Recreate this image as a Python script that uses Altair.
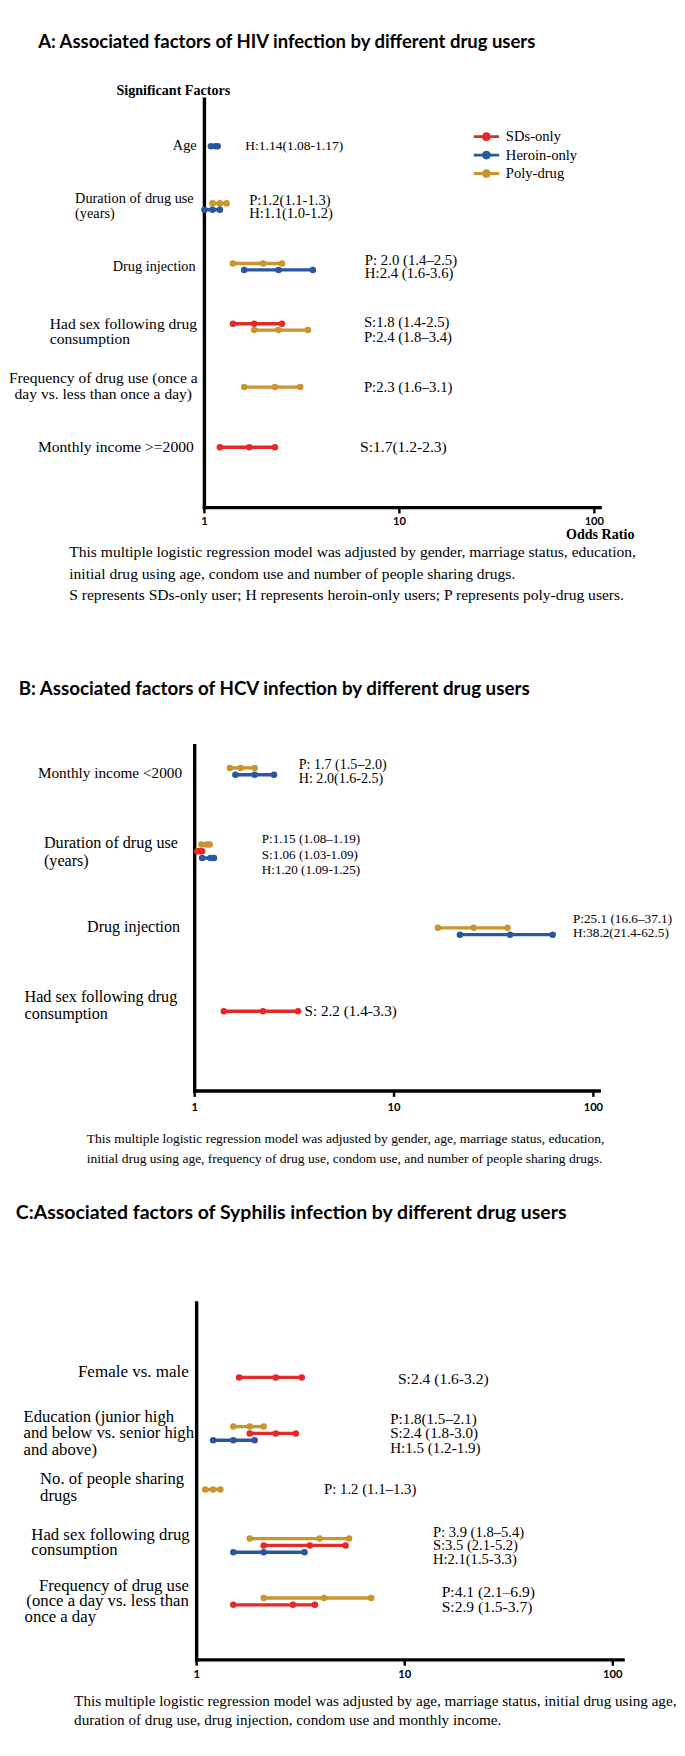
import altair as alt
import pandas as pd

SERIF = "Liberation Serif"
SANS = "Lato"

# ---------------- data ----------------
SERIES = ["SDs-only", "Heroin-only", "Poly-drug"]
SERIES_COLORS = ["#E4292B", "#2A579E", "#C8952F"]
CODE_TO_SERIES = {"S": "SDs-only", "H": "Heroin-only", "P": "Poly-drug"}

TICK_VALUES = [1, 10, 100]
TICK_LABELS = ["1", "10", "100"]

# Panel A: HIV
A_TITLE = "A: Associated factors of HIV  infection by different drug users"
A_FACTORS = [
    ["Age"],
    ["Duration of drug use", "(years)"],
    ["Drug injection"],
    ["Had sex following drug", "consumption"],
    ["Frequency of drug use (once a", "day vs. less than once a day)"],
    ["Monthly income >=2000"],
]
A_ROW = [0, 1, 1, 2, 2, 3, 3, 4, 5]
A_GROUP = ["H", "P", "H", "P", "H", "S", "P", "P", "S"]
A_OR = [1.14, 1.2, 1.1, 2.0, 2.4, 1.8, 2.4, 2.3, 1.7]
A_LO = [1.08, 1.1, 1.0, 1.4, 1.6, 1.4, 1.8, 1.6, 1.2]
A_HI = [1.17, 1.3, 1.2, 2.5, 3.6, 2.5, 3.4, 3.1, 2.3]
A_NOTE = ["H:1.14(1.08-1.17)", "P:1.2(1.1-1.3)", "H:1.1(1.0-1.2)",
          "P: 2.0 (1.4\u20132.5)", "H:2.4 (1.6-3.6)", "S:1.8 (1.4-2.5)",
          "P:2.4 (1.8\u20133.4)", "P:2.3 (1.6\u20133.1)", "S:1.7(1.2-2.3)"]
A_CAPTION = [
    "This multiple logistic regression model was adjusted by gender, marriage status, education,",
    "initial drug using age, condom use and number of people sharing drugs.",
    "S represents SDs-only user; H represents heroin-only users; P represents poly-drug users.",
]
A_YTITLE = "Significant Factors"
A_XTITLE = "Odds Ratio"

# Panel B: HCV
B_TITLE = "B: Associated factors of HCV infection by different drug users"
B_FACTORS = [
    ["Monthly income <2000"],
    ["Duration of drug use", "(years)"],
    ["Drug injection"],
    ["Had sex following drug", "consumption"],
]
B_ROW = [0, 0, 1, 1, 1, 2, 2, 3]
B_GROUP = ["P", "H", "P", "S", "H", "P", "H", "S"]
B_OR = [1.7, 2.0, 1.15, 1.06, 1.20, 25.1, 38.2, 2.2]
B_LO = [1.5, 1.6, 1.08, 1.03, 1.09, 16.6, 21.4, 1.4]
B_HI = [2.0, 2.5, 1.19, 1.09, 1.25, 37.1, 62.5, 3.3]
B_NOTE = ["P: 1.7 (1.5\u20132.0)", "H: 2.0(1.6-2.5)", "P:1.15 (1.08\u20131.19)",
          "S:1.06 (1.03-1.09)", "H:1.20 (1.09-1.25)", "P:25.1 (16.6\u201337.1)",
          "H:38.2(21.4-62.5)", "S: 2.2 (1.4-3.3)"]
B_CAPTION = [
    "This multiple logistic regression model was adjusted by gender, age, marriage status, education,",
    "initial drug using age, frequency of drug use, condom use, and number of people sharing drugs.",
]

# Panel C: Syphilis
C_TITLE = "C:Associated factors of Syphilis infection by different drug users"
C_FACTORS = [
    ["Female vs. male"],
    ["Education (junior high", "and below vs. senior high", "and above)"],
    ["No. of people sharing", "drugs"],
    ["Had sex following drug", "consumption"],
    ["Frequency of drug use", "(once a day vs. less than", "once a day"],
]
C_ROW = [0, 1, 1, 1, 2, 3, 3, 3, 4, 4]
C_GROUP = ["S", "P", "S", "H", "P", "P", "S", "H", "P", "S"]
C_OR = [2.4, 1.8, 2.4, 1.5, 1.2, 3.9, 3.5, 2.1, 4.1, 2.9]
C_LO = [1.6, 1.5, 1.8, 1.2, 1.1, 1.8, 2.1, 1.5, 2.1, 1.5]
C_HI = [3.2, 2.1, 3.0, 1.9, 1.3, 5.4, 5.2, 3.3, 6.9, 3.7]
C_NOTE = ["S:2.4 (1.6-3.2)", "P:1.8(1.5\u20132.1)", "S:2.4 (1.8-3.0)", "H:1.5 (1.2-1.9)",
          "P: 1.2 (1.1\u20131.3)", "P: 3.9 (1.8\u20135.4)", "S:3.5 (2.1-5.2)", "H:2.1(1.5-3.3)",
          "P:4.1 (2.1\u20136.9)", "S:2.9 (1.5-3.7)"]
C_CAPTION = [
    "This multiple logistic regression model was adjusted by age, marriage status, initial drug using age,",
    "duration of drug use, drug injection, condom use and monthly income.",
]

# ---------------- layout (pixels, styles) ----------------
# lab: (aligns per line, x per line, line height, vertical shift, font size)
# note: (x, line height, vertical shift, font size)
W = 669
LAY_A = dict(
    height=632, x1=194, dec=200.5, top=69, bottom=489, xend=107, tick_y=504,
    title=(23, 10), title_size=19,
    cap_x=55, cap_y=[535, 557, 579], cap_size=16,
    row0=117.5, spacing=61.9, sub=6.5, lw=3.5, dot=45,
    lab=[(["right"], [186], 15, 0, 14.7), (["left"] * 2, [61] * 2, 15, 0, 14.7),
         (["right"], [185], 15, 0, 14.7), (["left"] * 2, [35] * 2, 16, 5, 16),
         (["center"] * 2, [90] * 2, 16, -1, 16), (["right"], [183], 15, 0, 16)],
    note=[(236, 14, 0, 13.9), (240, 14, 0, 15), (359, 14, 0, 15.2), (358, 16, 3, 15.1),
          (358, 14, 0, 15.2), (354, 14, 0, 16)],
)
LAY_B = dict(
    height=550, x1=184, dec=205, top=102, bottom=457, xend=107, tick_y=475,
    title=(3, 44), title_size=19.3,
    cap_x=73, cap_y=[506, 527], cap_size=13.9,
    row0=128.2, spacing=82.25, sub=7, lw=3.5, dot=45,
    lab=[(["right"], [171], 16, 2, 15.7), (["left"] * 2, [29] * 2, 19, 1, 16.6),
         (["right"], [169], 16, -4, 16.5), (["left"] * 2, [9] * 2, 18, -6, 16.6)],
    note=[(291, 14, 1, 14.5), (253, 16, 3.5, 13.5), (573, 14, -5.5, 13.6), (297, 14, 0, 15.6)],
)
LAY_C = dict(
    height=562, x1=186, dec=214, top=125, bottom=492, xend=112, tick_y=508,
    title=(0, 33), title_size=20,
    cap_x=60, cap_y=[534, 554], cap_size=15.6,
    row0=201.5, spacing=57.6, sub=7, lw=3.5, dot=45,
    lab=[(["right"], [178], 16, -5.5, 17.5), (["left"] * 3, [8] * 3, 17, 0, 17.1),
         (["left"] * 2, [25] * 2, 17, -2, 17.1), (["left"] * 2, [16] * 2, 16, -3, 17.2),
         (["right", "right", "left"], [178, 178, 9], 16, 0, 17.2)],
    note=[(393, 15, 1.5, 16), (385, 15, 0, 15.5), (317, 15, 0, 15.2), (429, 14, 0, 15),
          (438, 16, -2, 16)],
)

LEGEND_PATH = ("M-2,-0.23H2V0.23H-2Z "
               "M0.7,0A0.7,0.7,0,1,1,-0.7,0A0.7,0.7,0,1,1,0.7,0Z")

DUMMY = pd.DataFrame({"d": [0]})


def make_panel(title, factors, rows, groups, ors, los, his, notes, caption, lay,
               legend=False, ytitle=None, xtitle=None):
    h = lay["height"]
    sp = lay["spacing"]
    x1, dec = lay["x1"], lay["dec"]
    xscale = alt.Scale(type="log", domain=[10 ** (-x1 / dec), 10 ** ((W - x1) / dec)], nice=False)
    yscale = alt.Scale(domain=[-lay["row0"] / sp, (h - lay["row0"]) / sp], reverse=True,
                       nice=False, zero=False)
    cscale = alt.Scale(domain=SERIES, range=SERIES_COLORS)

    counts = {}
    for r in rows:
        counts[r] = counts.get(r, 0) + 1
    seen = {}
    pos = []
    for r in rows:
        k = seen.get(r, 0)
        seen[r] = k + 1
        pos.append(r + (k - (counts[r] - 1) / 2) * lay["sub"] / sp)
    df = pd.DataFrame({"series": [CODE_TO_SERIES[g] for g in groups], "pos": pos,
                       "lo": los, "est": ors, "hi": his})

    def XD(v):
        return alt.XDatum(v, scale=xscale, axis=None)

    def YD(v):
        return alt.YDatum(v, scale=yscale, axis=None)

    def txt(x, y, s, size, align="left", font=SERIF, weight="normal"):
        return alt.Chart(DUMMY).mark_text(
            align=align, baseline="middle", font=font, fontSize=size,
            fontWeight=weight, color="black").encode(x=x, y=y, text=alt.value(s))

    if legend:
        leg = alt.Legend(title=None, orient="none", legendX=476.5, legendY=100,
                         symbolType=LEGEND_PATH, symbolSize=169, symbolStrokeWidth=0,
                         symbolOpacity=1, labelFont=SERIF,
                         labelFontSize=15, labelOffset=12.5, rowPadding=3,
                         labelColor="black")
    else:
        leg = None

    layers = []
    # axes drawn as rules through the scales
    layers.append(alt.Chart(DUMMY).mark_rule(strokeWidth=3.5, color="black", strokeCap="square").encode(
        x=XD(1), y=alt.value(lay["top"]), y2=alt.value(lay["bottom"])))
    layers.append(alt.Chart(DUMMY).mark_rule(strokeWidth=3.5, color="black", strokeCap="square").encode(
        x=XD(1), x2=alt.X2Datum(lay["xend"]), y=alt.value(lay["bottom"])))
    for tv, tl in zip(TICK_VALUES, TICK_LABELS):
        layers.append(alt.Chart(DUMMY).mark_rule(strokeWidth=2.5, color="black").encode(
            x=XD(tv), y=alt.value(lay["bottom"]), y2=alt.value(lay["bottom"] + 6)))
        layers.append(alt.Chart(DUMMY).mark_text(
            align="center", baseline="middle", font=SANS, fontSize=11.5, fontWeight="bold",
            color="black").encode(x=XD(tv), y=alt.value(lay["tick_y"]), text=alt.value(tl)))

    # confidence intervals and points
    layers.append(alt.Chart(df).mark_rule(strokeWidth=lay["lw"]).encode(
        x=alt.X("lo:Q", scale=xscale, axis=None), x2="hi:Q",
        y=alt.Y("pos:Q", scale=yscale, axis=None),
        color=alt.Color("series:N", scale=cscale, legend=leg)))
    layers.append(alt.Chart(df).transform_fold(["lo", "est", "hi"], as_=["k", "v"]).mark_circle(
        size=lay["dot"], opacity=1).encode(
        x=alt.X("v:Q", scale=xscale, axis=None),
        y=alt.Y("pos:Q", scale=yscale, axis=None),
        color=alt.Color("series:N", scale=cscale, legend=leg)))

    # factor labels
    for f, lines in enumerate(factors):
        aligns, xs, lh, shift, size = lay["lab"][f]
        n = len(lines)
        for k, line in enumerate(lines):
            yv = f + ((k - (n - 1) / 2) * lh + shift) / sp
            layers.append(txt(alt.value(xs[k]), YD(yv), line, size, aligns[k]))

    # estimate notes
    for f in range(len(factors)):
        nx, lh, shift, size = lay["note"][f]
        lines = [notes[i] for i, r in enumerate(rows) if r == f]
        n = len(lines)
        for k, line in enumerate(lines):
            yv = f + ((k - (n - 1) / 2) * lh + shift) / sp
            layers.append(txt(alt.value(nx), YD(yv), line, size))

    # title, captions, axis titles
    tx, ty = lay["title"]
    layers.append(txt(alt.value(tx), alt.value(ty), title, lay["title_size"], font=SANS, weight="bold"))
    for cy, line in zip(lay["cap_y"], caption):
        layers.append(txt(alt.value(lay["cap_x"]), alt.value(cy), line, lay["cap_size"]))
    if ytitle:
        layers.append(txt(alt.value(162), alt.value(61), ytitle, 14.5, "center", weight="bold"))
    if xtitle:
        layers.append(txt(alt.value(601), alt.value(517), xtitle, 14.5, "center", weight="bold"))

    return alt.layer(*layers, data=DUMMY).properties(width=W, height=h)


pA = make_panel(A_TITLE, A_FACTORS, A_ROW, A_GROUP, A_OR, A_LO, A_HI, A_NOTE, A_CAPTION, LAY_A,
                legend=True, ytitle=A_YTITLE, xtitle=A_XTITLE)
pB = make_panel(B_TITLE, B_FACTORS, B_ROW, B_GROUP, B_OR, B_LO, B_HI, B_NOTE, B_CAPTION, LAY_B)
pC = make_panel(C_TITLE, C_FACTORS, C_ROW, C_GROUP, C_OR, C_LO, C_HI, C_NOTE, C_CAPTION, LAY_C)

chart = alt.vconcat(pA, pB, pC, spacing=0, bounds="flush").resolve_scale(
    color="independent").resolve_legend(color="independent").properties(
    padding=0).configure_view(stroke=None)

chart.save("out.html", embed_options={"renderer": "svg", "actions": False})
